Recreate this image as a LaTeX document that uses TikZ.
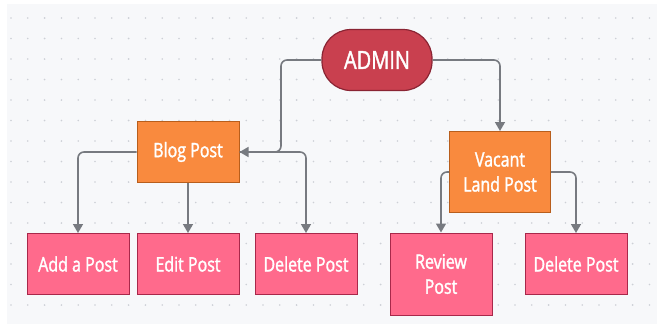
\documentclass[tikz,border=0pt]{standalone}
\usepackage{fontspec}
\setmainfont[FakeStretch=0.8, FakeBold=1.6]{Open Sans}
\usetikzlibrary{arrows.meta}

\definecolor{bgcol}{HTML}{F7F8FA}
\definecolor{dotcol}{HTML}{CDD0D6}
\definecolor{admincol}{HTML}{C9404F}
\definecolor{adminline}{HTML}{8A2433}
\definecolor{orangecol}{HTML}{F98A3E}
\definecolor{orangeline}{HTML}{B85E1C}
\definecolor{pinkcol}{HTML}{FF6A8C}
\definecolor{pinkline}{HTML}{A8284A}
\definecolor{arccol}{HTML}{777A80}

\tikzset{
	admin/.style={draw=adminline, fill=admincol, line width=1.2pt, rounded corners=29pt,
		minimum width=110pt, minimum height=61pt, text=white, font=\fontsize{25}{28}\selectfont},
	section/.style={draw=orangeline, fill=orangecol, line width=1pt,
		minimum width=102pt, minimum height=61pt, text=white, align=center,
		font=\fontsize{20}{25}\selectfont},
	task/.style={draw=pinkline, fill=pinkcol, line width=1pt,
		minimum width=102pt, minimum height=61pt, text=white, align=center,
		font=\fontsize{20}{25}\selectfont},
	arc/.style={draw=arccol, line width=1.6pt, rounded corners=6pt,
		-{Triangle[width=10pt,length=9pt]}}
}

\begin{document}
\begin{tikzpicture}[x=1pt, y=-1pt]

% BACKGROUND
\useasboundingbox (0,0) rectangle (657,324);
\fill[white] (0,0) rectangle (657,324);
\fill[bgcol] (7,4) rectangle (657,324);
\foreach \i in{0,...,38}{
	\foreach \j in{0,...,14}{
		\fill[dotcol] (11+16.8*\i, 18+20.5*\j) circle (0.9pt);
	}
}

% NODES
\node[admin](admin) at(377, 60) {ADMIN};

\node[section](blog) at(188, 152) {Blog Post};
\node[section, minimum width=101pt, minimum height=81pt](vacant) at(500, 172) {Vacant\\Land Post};

\foreach \n/\x/\t in{
	add/78/Add a Post, edit/188/Edit Post, delete/306/Delete Post, delete2/576/Delete Post%
}{
	\node[task](\n) at(\x, 264) {\t};
}
\node[task, minimum height=82pt](review) at(441, 274) {Review\\Post};

\coordinate(bj) at(281, 152);

% ARCS
\draw[arc] (admin.west) -| (bj) -- (blog.east);
\draw[arc] (admin.east) -| (vacant.north);

\draw[arc] (blog.west) -| (add.north);
\draw[arc] (blog.south) -- (edit.north);
\draw[arc] (blog.east) -| (delete.north);

\draw[arc] (vacant.west) -| (review.north);
\draw[arc] (vacant.east) -| (delete2.north);

\end{tikzpicture}
\end{document}
